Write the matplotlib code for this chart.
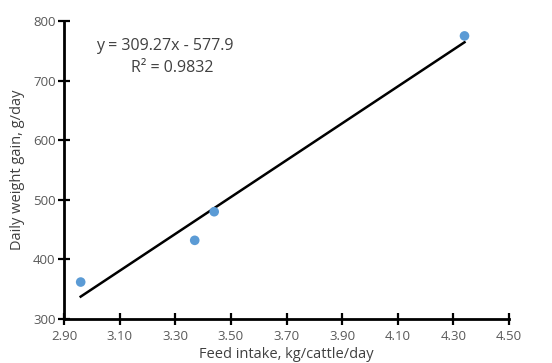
import matplotlib
matplotlib.use("Agg")
import matplotlib.pyplot as plt
import numpy as np

feed_intake = [2.96, 3.37, 3.44, 4.34]
weight_gain = [362, 432, 480, 775]
slope = 309.27
intercept = -577.9
x_ticks = [2.90, 3.10, 3.30, 3.50, 3.70, 3.90, 4.10, 4.30, 4.50]
y_ticks = [300, 400, 500, 600, 700, 800]

plt.rcParams['font.family'] = ['Open Sans', 'DejaVu Sans']

fig = plt.figure(figsize=(5.52, 3.63), dpi=100)
ax = fig.add_axes([64/552, 1-319/363, (509-64)/552, (319-21)/363])

ax.scatter(feed_intake, weight_gain, s=48, color='#5b9bd5', zorder=3, edgecolors='none')
xl = np.array([min(feed_intake), max(feed_intake)])
ax.plot(xl, slope*xl + intercept, color='black', lw=1.8, zorder=2)

ax.set_xlim(2.90, 4.50)
ax.set_ylim(300, 800)
ax.set_xticks(x_ticks)
ax.set_xticklabels([f"{v:.2f}" for v in x_ticks])
ax.set_yticks(y_ticks)
ax.set_yticklabels([str(v) for v in y_ticks])
for s in ['top', 'right']:
    ax.spines[s].set_visible(False)
for s in ['left', 'bottom']:
    ax.spines[s].set_linewidth(2)
ax.tick_params(axis='both', direction='inout', length=8, width=1.6, colors='black',
               labelcolor='#595959', labelsize=9.5)
ax.tick_params(axis='x', pad=4)
ax.tick_params(axis='y', pad=2)

ax.set_xlabel('Feed intake, kg/cattle/day', fontsize=10.5, color='#404040', labelpad=3)
ax.set_ylabel('Daily weight gain, g/day', fontsize=10.5, color='#404040', labelpad=6)

fig.text(165/552, 1-46/363, 'y = 309.27x - 577.9', ha='center', va='center', fontsize=11.5, color='#404040')
fig.text(172/552, 1-68/363, 'R\u00b2 = 0.9832', ha='center', va='center', fontsize=11.5, color='#404040')

fig.savefig('out.png', dpi=100)
